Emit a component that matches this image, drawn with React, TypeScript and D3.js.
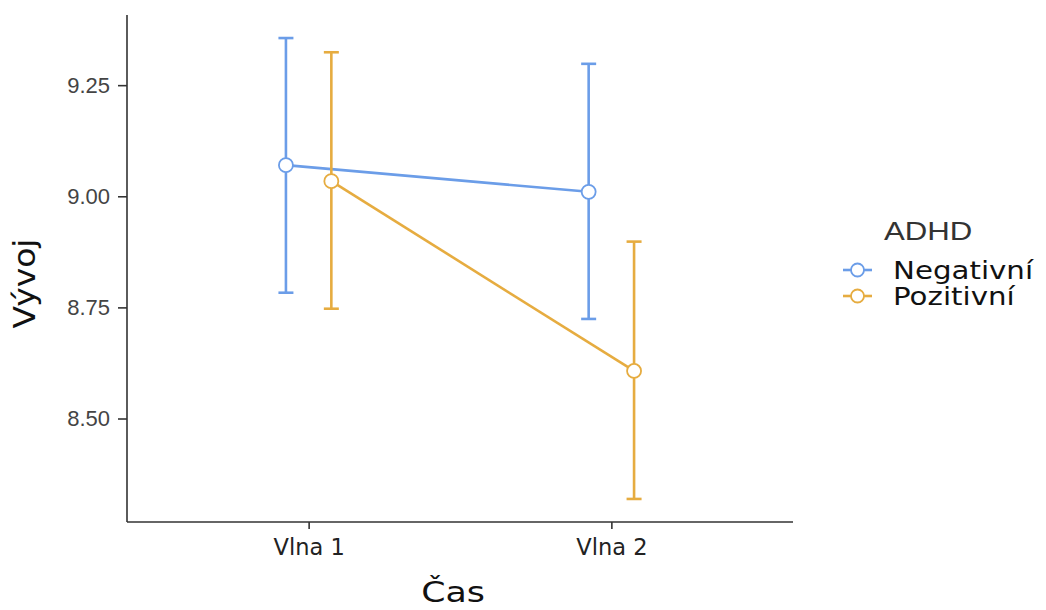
import React, { useEffect, useRef } from 'react';
import * as d3 from 'd3';

// data
const waves = ['Vlna 1', 'Vlna 2'];
const groups = ['Negativní', 'Pozitivní'];
const negMean = [9.07, 9.01];
const negLow = [8.783, 8.724];
const negHigh = [9.356, 9.298];
const posMean = [9.034, 8.607];
const posLow = [8.747, 8.319];
const posHigh = [9.324, 8.898];
const yTicks = [8.5, 8.75, 9.0, 9.25];
const colors = ['#6B9DE8', '#E6AC40'];

const W = 1046;
const H = 610;

function App() {
  const ref = useRef<SVGSVGElement>(null);

  useEffect(() => {
    const svg = d3.select(ref.current);
    svg.selectAll('*').remove();

    const margin = { top: 15, right: 253, bottom: 88, left: 127 };
    const innerW = W - margin.left - margin.right;
    const innerH = H - margin.top - margin.bottom;

    const series = [
      { name: groups[0], mean: negMean, low: negLow, high: negHigh, color: colors[0], dodge: -1 },
      { name: groups[1], mean: posMean, low: posLow, high: posHigh, color: colors[1], dodge: 1 },
    ];

    // y domain like ggplot: data range expanded by 5%
    const all = [...negLow, ...negHigh, ...posLow, ...posHigh];
    const lo = d3.min(all) as number;
    const hi = d3.max(all) as number;
    const pad = (hi - lo) * 0.05;

    const x = d3.scalePoint<string>().domain(waves).range([0, innerW]).padding(0.6);
    const y = d3.scaleLinear().domain([lo - pad, hi + pad]).range([innerH, 0]);
    const dodge = x.step() * 0.075;

    const g = svg.append('g').attr('transform', `translate(${margin.left}, ${margin.top})`);

    // axes
    const yAxis = g.append('g').call(d3.axisLeft(y).tickValues(yTicks).tickFormat(d3.format('.2f')).tickSize(9).tickPadding(8));
    yAxis.select('.domain').attr('stroke', '#333').attr('stroke-width', 1.6).attr('d', `M0,0V${innerH}`);
    yAxis.selectAll('.tick line').attr('stroke', '#333').attr('stroke-width', 1.6);
    yAxis.selectAll('.tick text')
      .attr('fill', '#444')
      .style('font-family', '"Liberation Sans", Arial, sans-serif')
      .style('font-size', '22px');

    const xAxis = g.append('g').attr('transform', `translate(0, ${innerH})`)
      .call(d3.axisBottom(x).tickSize(7).tickPadding(10));
    xAxis.select('.domain').attr('stroke', '#333').attr('stroke-width', 1.6).attr('d', `M0,0H${innerW}`);
    xAxis.selectAll('.tick line').attr('stroke', '#333').attr('stroke-width', 1.6);
    xAxis.selectAll('.tick text')
      .attr('fill', '#222')
      .style('font-family', '"DejaVu Sans", sans-serif')
      .style('font-size', '22.5px');

    // axis titles
    g.append('text')
      .attr('transform', `translate(${innerW / 2 - 7}, ${innerH + 80}) scale(1.2, 1)`)
      .attr('text-anchor', 'middle')
      .style('font-family', '"DejaVu Sans", sans-serif')
      .style('font-size', '29px')
      .attr('fill', '#111')
      .text('Čas');

    g.append('text')
      .attr('transform', `translate(${-92}, ${innerH / 2 + 15}) rotate(-90) scale(1.1, 1)`)
      .attr('text-anchor', 'middle')
      .style('font-family', '"DejaVu Sans", sans-serif')
      .style('font-size', '30px')
      .attr('fill', '#111')
      .text('Vývoj');

    // lines, error bars, points
    series.forEach((s) => {
      const px = (i: number) => (x(waves[i]) as number) + s.dodge * dodge;
      const line = d3.line<number>().x((d, i) => px(i)).y((d) => y(d));

      g.append('path')
        .datum(s.mean)
        .attr('fill', 'none')
        .attr('stroke', s.color)
        .attr('stroke-width', 2.6)
        .attr('d', line);

      const bars = g.append('g').selectAll('g').data(waves).join('g');
      bars.append('line')
        .attr('x1', (d, i) => px(i)).attr('x2', (d, i) => px(i))
        .attr('y1', (d, i) => y(s.low[i])).attr('y2', (d, i) => y(s.high[i]))
        .attr('stroke', s.color).attr('stroke-width', 2.6);
      [s.low, s.high].forEach((arr) => {
        bars.append('line')
          .attr('x1', (d, i) => px(i) - 7.5).attr('x2', (d, i) => px(i) + 7.5)
          .attr('y1', (d, i) => y(arr[i])).attr('y2', (d, i) => y(arr[i]))
          .attr('stroke', s.color).attr('stroke-width', 2.6);
      });

      g.append('g').selectAll('circle').data(s.mean).join('circle')
        .attr('cx', (d, i) => px(i))
        .attr('cy', (d) => y(d))
        .attr('r', 7)
        .attr('fill', '#fff')
        .attr('stroke', s.color)
        .attr('stroke-width', 1.8);
    });

    // legend
    const legend = svg.append('g').attr('transform', 'translate(843, 240)');
    legend.append('text')
      .attr('transform', 'translate(41, 0) scale(1.2, 1)')
      .style('font-family', '"Liberation Sans", Arial, sans-serif')
      .style('font-size', '26px')
      .attr('fill', '#333')
      .text('ADHD');

    const items = legend.selectAll('g.item').data(series).join('g')
      .attr('class', 'item')
      .attr('transform', (d, i) => `translate(0, ${30 + i * 26})`);
    items.append('line')
      .attr('x1', 0).attr('x2', 29).attr('y1', 0).attr('y2', 0)
      .attr('stroke', (d) => d.color).attr('stroke-width', 2.6);
    items.append('circle')
      .attr('cx', 14.5).attr('cy', 0).attr('r', 6.5)
      .attr('fill', '#fff').attr('stroke', (d) => d.color).attr('stroke-width', 1.8);
    items.append('text')
      .attr('transform', 'translate(50, 9) scale(1.22, 1)')
      .style('font-family', '"DejaVu Sans", sans-serif')
      .style('font-size', '24px')
      .attr('fill', '#111')
      .text((d) => d.name);
  }, []);

  return (
    <svg
      ref={ref}
      width={W}
      height={H}
      style={{ position: 'absolute', left: 0, top: 0, background: '#fff' }}
    />
  );
}

export default App;
